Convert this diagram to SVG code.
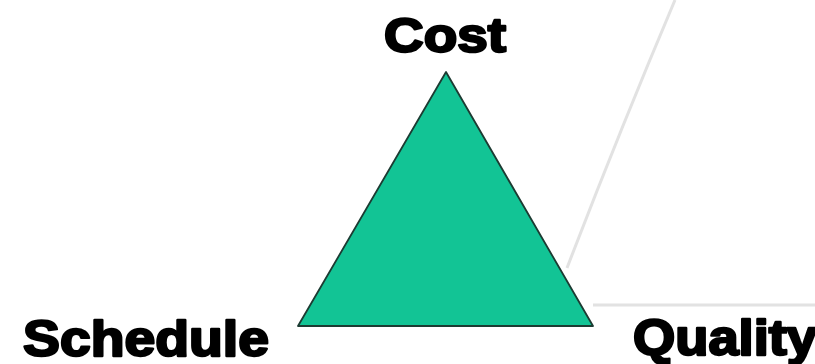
<svg xmlns="http://www.w3.org/2000/svg" width="815" height="364" viewBox="0 0 815 364">
<style>
.lbl{font-family:"Liberation Sans",Arial,sans-serif;font-weight:900;fill:#000;stroke:#000;stroke-width:2.4;stroke-linejoin:round}
.guide{fill:none;stroke:#e2e2e2;stroke-width:3}
</style>
<rect width="815" height="364" fill="#fff"/>
<g id="connectors">
<path class="guide" d="M675,0 Q620,130 567,268"/>
<path class="guide" d="M593,305 L815,305"/>
</g>
<g id="triangle">
<polygon points="446,72 298,326 593,326" fill="#12c495" stroke="#1c3b32" stroke-width="1.8" stroke-linejoin="round"/>
</g>
<g id="cost"><text class="lbl" x="384" y="52" font-size="48" textLength="122" lengthAdjust="spacingAndGlyphs">Cost</text></g>
<g id="schedule"><text class="lbl" x="23" y="356" font-size="50" textLength="246" lengthAdjust="spacingAndGlyphs">Schedule</text></g>
<g id="quality"><text class="lbl" x="633" y="355" font-size="50" textLength="184" lengthAdjust="spacingAndGlyphs">Quality</text></g>
</svg>
